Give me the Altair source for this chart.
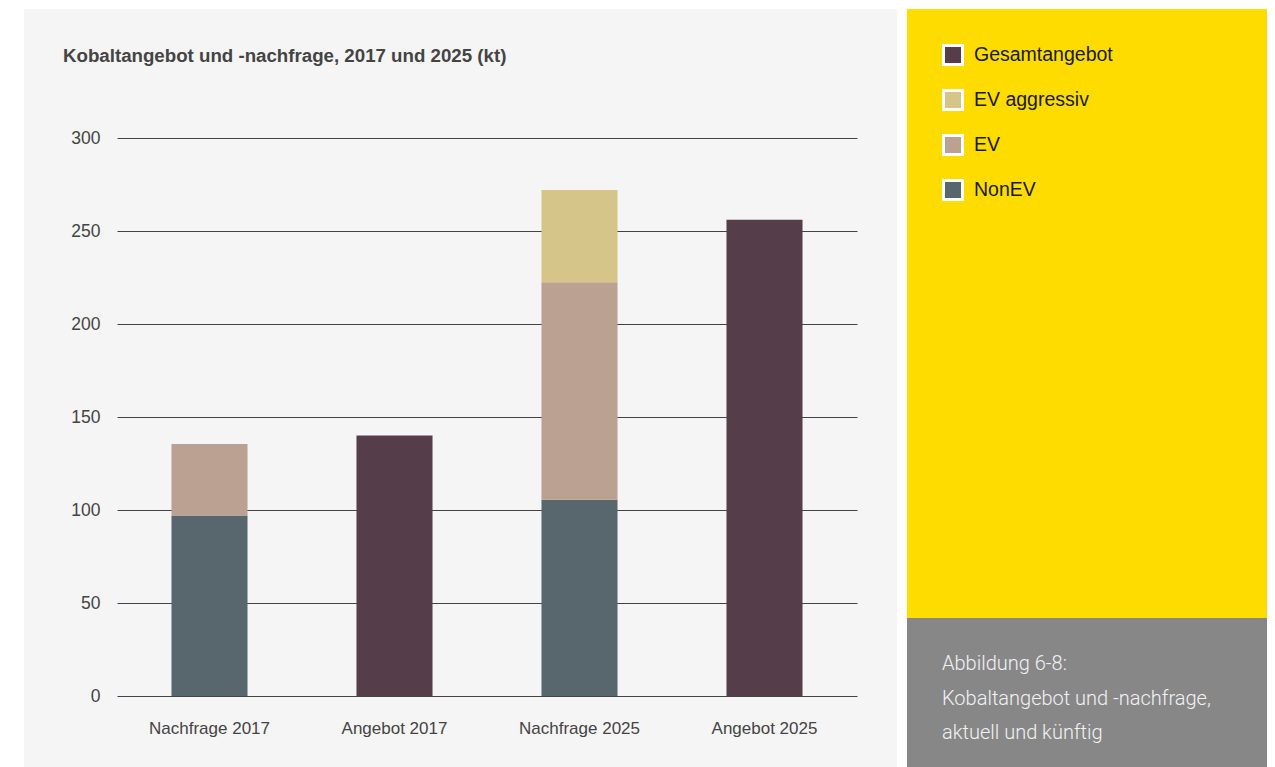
import altair as alt
import pandas as pd

# ---- data ----
categories = ["Nachfrage 2017", "Angebot 2017", "Nachfrage 2025", "Angebot 2025"]
series = ["Gesamtangebot", "EV aggressiv", "EV", "NonEV"]
series_colors = ["#553E49", "#D6C589", "#BBA192", "#58676E"]
stack_rank = {"NonEV": 0, "EV": 1, "EV aggressiv": 2, "Gesamtangebot": 3}

nonev = [97, 0, 105.5, 0]
ev = [38.5, 0, 117, 0]
ev_aggressiv = [0, 0, 49.5, 0]
gesamtangebot = [0, 140, 0, 256]

y_ticks = [0, 50, 100, 150, 200, 250, 300]

title_text = "Kobaltangebot und -nachfrage, 2017 und 2025 (kt)"
caption_lines = ["Abbildung 6-8:", "Kobaltangebot und -nachfrage,", "aktuell und künftig"]

rows = []
for name, vals in [("NonEV", nonev), ("EV", ev), ("EV aggressiv", ev_aggressiv),
                   ("Gesamtangebot", gesamtangebot)]:
    for cat, v in zip(categories, vals):
        if v:
            rows.append({"Kategorie": cat, "Serie": name, "Wert": v,
                         "rank": stack_rank[name]})
df = pd.DataFrame(rows)
one = pd.DataFrame({"a": [0]})

FONT = "Liberation Sans"

# ---- panels (canvas background is the light gray panel) ----
white_left = alt.Chart(one).mark_rect(color="white").encode(
    x=alt.value(-120), x2=alt.value(-93), y=alt.value(-140), y2=alt.value(700))
white_top = alt.Chart(one).mark_rect(color="white").encode(
    x=alt.value(-120), x2=alt.value(1200), y=alt.value(-140), y2=alt.value(-129))
white_gap = alt.Chart(one).mark_rect(color="white").encode(
    x=alt.value(780), x2=alt.value(790), y=alt.value(-140), y2=alt.value(700))
yellow_panel = alt.Chart(one).mark_rect(color="#FFDC00").encode(
    x=alt.value(790), x2=alt.value(1156), y=alt.value(-129), y2=alt.value(480))
caption_panel = alt.Chart(one).mark_rect(color="#878787").encode(
    x=alt.value(790), x2=alt.value(1156), y=alt.value(480), y2=alt.value(700))

# ---- bars ----
bars = alt.Chart(df).mark_bar().encode(
    x=alt.X("Kategorie:N", sort=categories,
            scale=alt.Scale(paddingInner=0.589, paddingOuter=0.2945),
            axis=alt.Axis(title=None, labelAngle=0, domain=False, ticks=False,
                          tickSize=0, labelPadding=24, labelFontSize=17,
                          labelFont=FONT, labelColor="#444444")),
    y=alt.Y("sum(Wert):Q", scale=alt.Scale(domain=[0, 300], nice=False),
            axis=alt.Axis(title=None, values=y_ticks, grid=True, gridColor="#444444",
                          gridWidth=1, gridOpacity=1, domain=False, ticks=False,
                          tickSize=0, labelPadding=17, labelFontSize=17.5,
                          labelFont=FONT, labelColor="#444444")),
    color=alt.Color("Serie:N",
                    scale=alt.Scale(domain=series, range=series_colors),
                    legend=alt.Legend(orient="none", legendX=825, legendY=-94,
                                      title=None, padding=0,
                                      symbolType="square", symbolSize=361,
                                      symbolStrokeColor="white",
                                      symbolStrokeWidth=3, symbolOpacity=1,
                                      labelFontSize=19.5, labelFont=FONT,
                                      labelColor="#1A1A1A", labelOffset=10,
                                      rowPadding=13)),
    order=alt.Order("rank:Q", sort="ascending"),
)

# ---- texts ----
title = alt.Chart(one).mark_text(
    align="left", baseline="alphabetic", fontSize=18.7, fontWeight="bold",
    font=FONT, color="#444444").encode(
    x=alt.value(-54), y=alt.value(-76.3), text=alt.value(title_text))

caption = alt.Chart(one).mark_text(
    align="left", baseline="alphabetic", fontSize=20, fontWeight=300,
    font="Roboto", color="#F2F2F2", lineHeight=34.5).encode(
    x=alt.value(825), y=alt.value(532), text=alt.value(caption_lines))

chart = alt.layer(white_left, white_top, white_gap, yellow_panel, caption_panel,
                  bars, title, caption).properties(
    width=740, height=558,
    autosize=alt.AutoSizeParams(type="none"),
    padding={"left": 109, "top": 130, "right": 410, "bottom": 71},
    background="#F5F5F5",
).configure_view(stroke=None)

chart.save("out.html", embed_options={"renderer": "svg", "actions": False})
